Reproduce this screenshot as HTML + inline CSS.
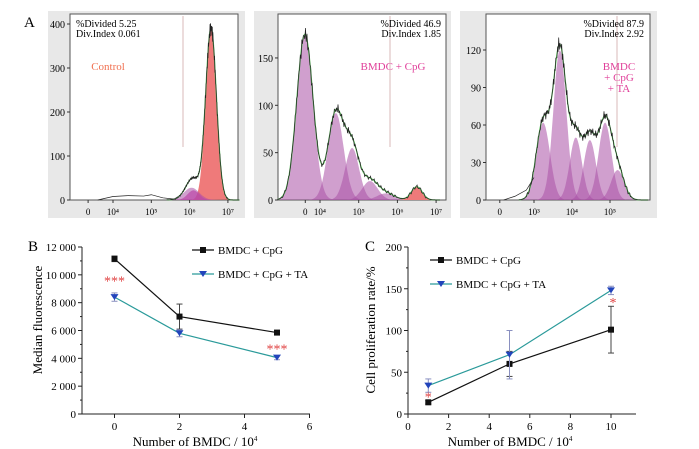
<!DOCTYPE html>
<html><head><meta charset="utf-8"><style>
body{margin:0;background:#fff;width:699px;height:449px;overflow:hidden}
svg{display:block;font-family:"Liberation Serif",serif}
</style></head><body>
<svg id="fig" width="699" height="449" viewBox="0 0 699 449">
<text x="24" y="27" font-size="15">A</text>
<text x="28" y="251" font-size="15">B</text>
<text x="365" y="251" font-size="15">C</text>
<g id="hist"></g><g id="chartB"></g><g id="chartC"></g>
</svg>
<script>
// ---------- Panel A data (flow histograms, decades / counts) ----------
const a1Centers=[6.56,6.1,6.05];
const a1Heights=[390,22,28];
const a1Sigmas=[0.14,0.15,0.2];
const a1Colors=['red','pinkd','purple'];
const a1Noise=[[3.6,0],[4.0,8],[4.4,10],[4.8,9],[5.0,12],[5.3,5],[5.6,2]];
const a1Ticks=['0','10⁴','10⁵','10⁶','10⁷'];
const a1TickPos=[3.35,4,5,6,7];
const a1YTicks=[0,100,200,300,400];

const a2Centers=[3.61,4.41,4.83,5.29,5.7,6.5];
const a2Heights=[175,92,55,20,7,14];
const a2Sigmas=[0.21,0.2,0.18,0.2,0.22,0.14];
const a2Colors=['purple','purple','purple','purple','purple','red'];
const a2Ticks=['0','10⁴','10⁵','10⁶','10⁷'];
const a2TickPos=[3.62,4,5,6,7];
const a2YTicks=[0,50,100,150];

const a3Centers=[3.24,3.68,4.1,4.47,4.87,5.2];
const a3Heights=[62,120,50,48,62,24];
const a3Sigmas=[0.18,0.17,0.16,0.16,0.17,0.17];
const a3Colors=['purple','purple','purple','purple','purple','purple'];
const a3Noise=[[2.2,0],[2.5,3],[2.8,8],[3.0,18]];
const a3Ticks=['0','10³','10⁴','10⁵'];
const a3TickPos=[2.1,3,4,5];
const a3YTicks=[0,30,60,90,120];

// ---------- Panel B data ----------
const bX=[0,2,5];
const bBlack=[11150,7000,5850];
const bBlackErr=[200,900,80];
const bBlue=[8400,5800,4050];
const bBlueErr=[300,250,150];
const bYTicks=[0,2000,4000,6000,8000,10000,12000];
const bYLabels=['0','2 000','4 000','6 000','8 000','10 000','12 000'];
const bXTicks=[0,2,4,6];
// ---------- Panel C data ----------
const cX=[1,5,10];
const cBlack=[14,60,101];
const cBlackErr=[2,15,28];
const cBlue=[34,71,148];
const cBlueErr=[8,29,5];
const cYTicks=[0,50,100,150,200];
const cXTicks=[0,2,4,6,8,10];

const NS='http://www.w3.org/2000/svg';
function mk(tag,attrs,parent,txt){const e=document.createElementNS(NS,tag);for(const k in attrs)e.setAttribute(k,attrs[k]);if(txt!==undefined)e.textContent=txt;parent.appendChild(e);return e;}
const fill={red:'#ef7a7a',purple:'rgba(170,80,165,0.55)',pinkd:'rgba(210,60,170,0.7)'};

function histPanel(cfg){
  const g=document.getElementById('hist');
  const box=mk('rect',{x:cfg.bx,y:11,width:197,height:207,fill:'#e8e8e8'},g);
  
  mk('rect',{x:cfg.px,y:14,width:cfg.pw,height:186,fill:'#fff',stroke:'#555','stroke-width':1},g);
  const X=d=>cfg.x0+(d-cfg.d0)*cfg.dpx, Y=v=>200-v*cfg.ypx;
  const dMin=cfg.dMin,dMax=cfg.dMax,N=220;
  const tot=[];
  for(let i=0;i<=N;i++){const d=dMin+(dMax-dMin)*i/N;let s=0;cfg.c.forEach((c,k)=>s+=cfg.h[k]*Math.exp(-0.5*((d-c)/cfg.s[k])**2));tot.push([d,s]);}
  cfg.c.forEach((c,k)=>{
    let p='M'+X(c-3.5*cfg.s[k])+','+200;
    for(let i=0;i<=40;i++){const d=c-3.5*cfg.s[k]+7*cfg.s[k]*i/40;p+=' L'+X(d).toFixed(1)+','+Y(cfg.h[k]*Math.exp(-0.5*((d-c)/cfg.s[k])**2)).toFixed(1);}
    const el=mk('path',{d:p+' Z',fill:fill[cfg.col[k]]},g);
    
  });
  let pg='',pb='';
  tot.forEach(([d,s],i)=>{pg+=(i?' L':'M')+X(d).toFixed(1)+','+Y(s).toFixed(1);
    const n=s>3?(Math.sin(i*2.7)*0.04*s+Math.cos(i*1.3)*1.5):0;pb+=(i?' L':'M')+X(d).toFixed(1)+','+Y(Math.max(0,s+n)).toFixed(1);});
  const gl=mk('path',{d:pg,fill:'none',stroke:'#5cc05c','stroke-width':1.2},g);
  
  const bl=mk('path',{d:pb,fill:'none',stroke:'#222','stroke-width':0.7},g);
  
  if(cfg.noise){let pn='';cfg.noise.forEach(([d,v],i)=>pn+=(i?' L':'M')+X(d)+','+Y(v));mk('path',{d:pn,fill:'none',stroke:'#222','stroke-width':0.7},g);}
  if(cfg.gate) mk('line',{x1:cfg.gate,y1:16,x2:cfg.gate,y2:147,stroke:'#d9b8b8','stroke-width':1},g);
  cfg.yt.forEach(v=>{mk('line',{x1:cfg.px-3,y1:Y(v),x2:cfg.px,y2:Y(v),stroke:'#333'},g);
    mk('text',{x:cfg.px-5,y:Y(v)+4,'font-size':10,'text-anchor':'end'},g,v);});
  cfg.tp.forEach((d,i)=>{mk('line',{x1:X(d),y1:200,x2:X(d),y2:203,stroke:'#333'},g);
    mk('text',{x:X(d),y:215,'font-size':9,'text-anchor':'middle'},g,cfg.tl[i]);});
  mk('text',{x:cfg.tx,y:27,'font-size':10,'text-anchor':cfg.ta},g,cfg.t1);
  mk('text',{x:cfg.tx,y:37,'font-size':10,'text-anchor':cfg.ta},g,cfg.t2);
  cfg.lab.forEach((t,i)=>{const e=mk('text',{x:cfg.lx,y:cfg.ly+i*11,'font-size':11,'text-anchor':'middle',fill:cfg.lc},g,t);
    });
}
histPanel({name:'control',bx:48,px:70,pw:168,x0:113,d0:4,dpx:38.3,ypx:0.44,dMin:5.4,dMax:7.3,c:a1Centers,h:a1Heights,s:a1Sigmas,col:a1Colors,noise:a1Noise,gate:183,yt:a1YTicks,tp:a1TickPos,tl:a1Ticks,tx:76,ta:'start',t1:'%Divided 5.25',t2:'Div.Index 0.061',lab:['Control'],lx:108,ly:70,lc:'#f07050'});
histPanel({name:'cpg',bx:254,px:278,pw:168,x0:320,d0:4,dpx:38.7,ypx:0.947,dMin:2.9,dMax:7.1,c:a2Centers,h:a2Heights,s:a2Sigmas,col:a2Colors,gate:390,yt:a2YTicks,tp:a2TickPos,tl:a2Ticks,tx:441,ta:'end',t1:'%Divided 46.9',t2:'Div.Index 1.85',lab:['BMDC + CpG'],lx:393,ly:70,lc:'#e0409a'});
histPanel({name:'cpg-ta',bx:460,px:486,pw:164,x0:572,d0:4,dpx:38,ypx:1.25,dMin:2.6,dMax:6.0,c:a3Centers,h:a3Heights,s:a3Sigmas,col:a3Colors,noise:a3Noise,gate:617,yt:a3YTicks,tp:a3TickPos,tl:a3Ticks,tx:644,ta:'end',t1:'%Divided 87.9',t2:'Div.Index 2.92',lab:['BMDC','+ CpG','+ TA'],lx:619,ly:70,lc:'#e0409a'});

function linePanel(gid,cfg){
  const g=document.getElementById(gid);
  const X=v=>cfg.ax+(v-cfg.xmin)*cfg.xs, Y=v=>414-v*cfg.ys;
  mk('line',{x1:cfg.ax,y1:cfg.yTop,x2:cfg.ax,y2:414,stroke:'#222'},g);
  mk('line',{x1:cfg.ax,y1:414,x2:cfg.xEnd,y2:414,stroke:'#222'},g);
  cfg.yt.forEach((v,i)=>{mk('line',{x1:cfg.ax-4,y1:Y(v),x2:cfg.ax,y2:Y(v),stroke:'#222'},g);
    if(i<cfg.yt.length-1)mk('line',{x1:cfg.ax-2,y1:(Y(v)+Y(cfg.yt[i+1]))/2,x2:cfg.ax,y2:(Y(v)+Y(cfg.yt[i+1]))/2,stroke:'#222'},g);
    mk('text',{x:cfg.ax-6,y:Y(v)+4,'font-size':11,'text-anchor':'end'},g,cfg.yl[i]);});
  cfg.xt.forEach(v=>{mk('line',{x1:X(v),y1:414,x2:X(v),y2:418,stroke:'#222'},g);
    mk('text',{x:X(v),y:430,'font-size':11,'text-anchor':'middle'},g,v);});
  const series=[[cfg.black,cfg.blackErr,'#111','#111','square','black'],[cfg.blue,cfg.blueErr,'#2a9a9a','#2244bb','tri','blue']];
  series.forEach(([vals,err,lc,mc,shape,nm])=>{
    let p='';vals.forEach((v,i)=>p+=(i?' L':'M')+X(cfg.x[i])+','+Y(v));
    const l=mk('path',{d:p,fill:'none',stroke:lc,'stroke-width':1.2},g);
    
    vals.forEach((v,i)=>{const x=X(cfg.x[i]),y=Y(v);
      mk('line',{x1:x,y1:Y(v+err[i]),x2:x,y2:Y(v-err[i]),stroke:nm=='blue'?'#8a90c0':'#444'},g);
      mk('line',{x1:x-3,y1:Y(v+err[i]),x2:x+3,y2:Y(v+err[i]),stroke:nm=='blue'?'#8a90c0':'#444'},g);
      mk('line',{x1:x-3,y1:Y(v-err[i]),x2:x+3,y2:Y(v-err[i]),stroke:nm=='blue'?'#8a90c0':'#444'},g);
      const m=shape=='square'?mk('rect',{x:x-3,y:y-3,width:6,height:6,fill:mc},g):mk('path',{d:`M${x-4},${y-3} L${x+4},${y-3} L${x},${y+3} Z`,fill:mc},g);
      });
  });
  [['BMDC + CpG','#111','square',cfg.lgY],['BMDC + CpG + TA','#2a9a9a','tri',cfg.lgY+24]].forEach(([t,c,s,y])=>{
    mk('line',{x1:cfg.lgX,y1:y,x2:cfg.lgX+22,y2:y,stroke:c,'stroke-width':1.2},g);
    const cx=cfg.lgX+11;
    if(s=='square')mk('rect',{x:cx-3,y:y-3,width:6,height:6,fill:'#111'},g);else mk('path',{d:`M${cx-4},${y-3} L${cx+4},${y-3} L${cx},${y+3} Z`,fill:'#2244bb'},g);
    const e=mk('text',{x:cfg.lgX+26,y:y+4,'font-size':11},g,t);
    });
  cfg.stars.forEach(([xv,yv,t])=>mk('text',{x:X(xv),y:Y(yv)+5,'font-size':cfg.starSize,'text-anchor':'middle',fill:'#e04040'},g,t));
  const yl=mk('text',{x:cfg.ylx,y:cfg.yly,'font-size':13,'text-anchor':'middle',transform:`rotate(-90 ${cfg.ylx} ${cfg.yly})`},g,cfg.ytitle);
  
  const xl=mk('text',{x:cfg.xlx,y:446,'font-size':13,'text-anchor':'middle'},g);
  
  xl.appendChild(document.createTextNode('Number of BMDC / 10'));
  mk('tspan',{dy:-5,'font-size':7},xl,'4');
}
linePanel('chartB',{ax:82,xmin:-1,xs:32.5,ys:167/12000,yTop:247,xEnd:310,x:bX,black:bBlack,blackErr:bBlackErr,blue:bBlue,blueErr:bBlueErr,yt:bYTicks,yl:bYLabels,xt:bXTicks,lgX:192,lgY:250,stars:[[0,9600,'***'],[5,4700,'***']],starSize:14,ytitle:'Median fluorescence',ylx:42,yly:320,xlx:195});
linePanel('chartC',{ax:408,xmin:0,xs:20.3,ys:167/200,yTop:247,xEnd:636,x:cX,black:cBlack,blackErr:cBlackErr,blue:cBlue,blueErr:cBlueErr,yt:cYTicks,yl:cYTicks,xt:cXTicks,lgX:430,lgY:260,stars:[[1,21,'*'],[10.1,134,'*']],starSize:14,ytitle:'Cell proliferation rate/%',ylx:375,yly:330,xlx:510});
</script>
</body></html>
